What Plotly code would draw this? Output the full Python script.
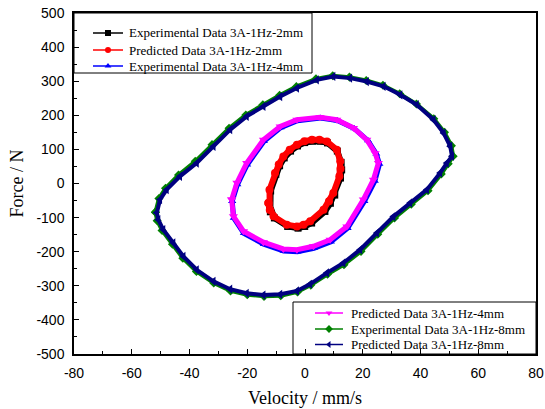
import plotly.graph_objects as go

# ---- data ----
v_exp_2 = [-12.3, -12.0, -11.9, -10.1, -8.8, -7.2, -5.0, -2.6, -0.1, 2.6, 5.2, 7.8, 11.2, 12.5, 12.7, 12.3, 10.3, 8.8, 6.9, 2.3, -0.1, -2.4, -6.0, -10.6]
F_exp_2 = [-61, -83, -22, 27, 52, 75, 95, 110, 120, 124, 124, 119, 95, 62, 40, 16, -34, -58, -82, -116, -126, -131, -126, -101]
v_pred_2 = [-12.7, -12.2, -12.3, -10.4, -9.1, -7.5, -5.3, -2.8, -0.2, 2.4, 5.0, 7.6, 11.0, 12.2, 12.3, 11.9, 9.8, 8.3, 6.4, 1.8, -0.5, -2.8, -6.3, -10.9]
F_pred_2 = [-57, -78, -18, 31, 56, 79, 99, 114, 124, 128, 128, 123, 99, 65, 43, 21, -28, -52, -77, -111, -121, -126, -121, -96]

v_exp_4 = [-25.2, -23.4, -20.0, -14.2, -8.4, -2.6, 5.4, 11.2, 17.1, 21.8, 24.7, 25.8, 24.2, 20.6, 14.8, 9.0, 3.1, -2.6, -7.4, -14.3, -21.2, -24.7]
F_exp_4 = [-52, -3, 55, 124, 164, 184, 192, 185, 161, 126, 87, 57, 7, -52, -131, -171, -190, -200, -198, -178, -146, -101]
v_pred_4 = [-25.4, -23.6, -20.2, -14.4, -8.6, -2.8, 5.2, 11.0, 16.8, 21.4, 24.3, 25.4, 23.7, 20.2, 14.5, 8.7, 2.9, -2.8, -7.5, -14.4, -21.3, -24.8]
F_pred_4 = [-47, 2, 60, 128, 167, 187, 194, 187, 163, 128, 89, 60, 11, -47, -126, -165, -184, -194, -192, -172, -140, -96]

v_exp_8 = [-51.8, -50.6, -48.3, -43.8, -38.0, -32.2, -26.3, -20.5, -14.6, -8.8, -3.0, 3.8, 9.6, 15.4, 21.2, 27.0, 32.8, 38.6, 44.6, 48.3, 50.7, 51.3, 49.6, 47.2, 42.6, 36.8, 31.0, 25.2, 19.4, 13.5, 7.8, 2.0, -2.6, -8.4, -14.2, -20.0, -25.8, -31.6, -37.6, -42.3, -45.9, -49.5, -51.2]
F_exp_8 = [-84, -44, -14, 25, 65, 114, 162, 201, 231, 259, 284, 307, 316, 312, 302, 288, 263, 233, 190, 150, 111, 80, 58, 28, -21, -61, -101, -149, -199, -238, -266, -298, -318, -329, -331, -326, -315, -292, -258, -219, -178, -138, -109]
v_pred_8 = [-51.3, -50.2, -47.9, -43.3, -37.5, -31.7, -25.9, -20.2, -14.4, -8.6, -2.8, 4.1, 9.8, 15.6, 21.4, 27.2, 33.0, 38.7, 44.5, 48.0, 50.3, 50.9, 49.1, 46.8, 42.2, 36.4, 30.6, 24.9, 19.1, 13.3, 7.6, 1.8, -2.8, -8.6, -14.4, -20.2, -25.9, -31.7, -37.5, -42.1, -45.6, -49.1, -50.8]
F_pred_8 = [-86, -47, -18, 21, 60, 109, 158, 197, 226, 255, 280, 304, 314, 309, 299, 285, 260, 231, 187, 148, 109, 80, 60, 31, -18, -57, -97, -145, -194, -233, -262, -295, -315, -325, -327, -322, -310, -287, -253, -214, -174, -135, -106]

x_ticks = [-80, -60, -40, -20, 0, 20, 40, 60, 80]
y_ticks = [-500, -400, -300, -200, -100, 0, 100, 200, 300, 400, 500]

names = ["Experimental Data 3A-1Hz-2mm", "Predicted Data 3A-1Hz-2mm",
         "Experimental Data 3A-1Hz-4mm", "Predicted Data 3A-1Hz-4mm",
         "Experimental Data 3A-1Hz-8mm", "Predicted Data 3A-1Hz-8mm"]

SERIF = "Liberation Serif, Times New Roman, serif"
SANS = "Liberation Sans, Arial, sans-serif"

W, H = 545, 409
ML, MR, MT, MB = 74, 9, 13, 55
PW, PH = W - ML - MR, H - MT - MB


def px(x):  # pixel x -> paper x
    return (x - ML) / PW


def py(y):  # pixel y -> paper y
    return (H - MB - y) / PH


def closed(a):
    return list(a) + [a[0]]


fig = go.Figure()
# (x, y, name, colour, symbol, marker size, line width)
specs = [
    (v_exp_8, F_exp_8, names[4], "#008000", "diamond", 7, 4),
    (v_pred_8, F_pred_8, names[5], "#000080", "triangle-left", 8, 4),
    (v_exp_4, F_exp_4, names[2], "#0000FF", "triangle-up", 7, 5),
    (v_pred_4, F_pred_4, names[3], "#FF00FF", "triangle-down", 8, 5),
    (v_exp_2, F_exp_2, names[0], "#000000", "square", 7, 6),
    (v_pred_2, F_pred_2, names[1], "#FF0000", "circle", 8, 6),
]
style = {nm: (col, sym) for _, _, nm, col, sym, _, _ in specs}
for vx, fy, nm, col, sym, ms, lw in specs:
    fig.add_trace(go.Scatter(
        x=closed(vx), y=closed(fy), name=nm, mode="lines+markers",
        line=dict(color=col, width=lw),
        marker=dict(color=col, symbol=sym, size=ms, line=dict(width=0)),
        showlegend=False,
    ))

# ---- legends drawn as boxes + sample line/marker + text ----
legend_boxes = [
    (74, 312, 13, 73, names[0:3], [33, 50, 66], 93, 123, 127),
    (293, 536, 302, 354, names[3:6], [313, 329, 344.5], 315, 343, 349),
]
for x0, x1, y0, y1, items, rows, lx0, lx1, tx in legend_boxes:
    fig.add_shape(type="rect", xref="paper", yref="paper",
                  x0=px(x0), x1=px(x1), y0=py(y1), y1=py(y0),
                  line=dict(color="black", width=1), fillcolor="white", layer="below")
    for nm, ry in zip(items, rows):
        col, sym = style[nm]
        fig.add_shape(type="line", xref="paper", yref="paper",
                      x0=px(lx0), x1=px(lx1), y0=py(ry), y1=py(ry),
                      line=dict(color=col, width=1.5), layer="above")
        fig.add_trace(go.Scatter(
            x=[px((lx0 + lx1) / 2)], y=[py(ry)], xaxis="x2", yaxis="y2",
            mode="markers", marker=dict(color=col, symbol=sym, size=6, line=dict(width=0)),
            showlegend=False, hoverinfo="skip", cliponaxis=False,
        ))
        fig.add_annotation(xref="paper", yref="paper", x=px(tx), y=py(ry),
                           xanchor="left", yanchor="middle", showarrow=False, text=nm,
                           font=dict(family=SERIF, size=13, color="black"))

axis_common = dict(
    showline=True, linecolor="black", linewidth=1.5, mirror=True,
    ticks="inside", ticklen=5, tickwidth=1, tickcolor="black",
    showgrid=False, zeroline=False, automargin=False,
    tickfont=dict(family=SANS, size=14, color="black"),
)
fig.update_layout(
    xaxis=dict(range=[-80, 80], tickvals=x_ticks, ticktext=[str(t) for t in x_ticks],
               minor=dict(ticks="inside", dtick=10, tick0=0, ticklen=3, tickcolor="black"),
               title=dict(text="Velocity / mm/s", font=dict(family=SERIF, size=18, color="black"),
                          standoff=12),
               ticklabelstandoff=5, **axis_common),
    yaxis=dict(range=[-500, 500], tickvals=y_ticks, ticktext=[str(t) for t in y_ticks],
               minor=dict(ticks="inside", dtick=50, tick0=0, ticklen=3, tickcolor="black"),
               title=dict(text="Force / N", font=dict(family=SERIF, size=18, color="black"),
                          standoff=8),
               ticklabelstandoff=5, **axis_common),
    xaxis2=dict(overlaying="x", range=[0, 1], visible=False, fixedrange=True),
    yaxis2=dict(overlaying="y", range=[0, 1], visible=False, fixedrange=True),
    width=W, height=H,
    margin=dict(l=ML, r=MR, t=MT, b=MB),
    paper_bgcolor="white", plot_bgcolor="white",
    showlegend=False,
)
fig.write_html("out.html", config={"displayModeBar": False},
               post_script="document.body.style.margin='0px';")
